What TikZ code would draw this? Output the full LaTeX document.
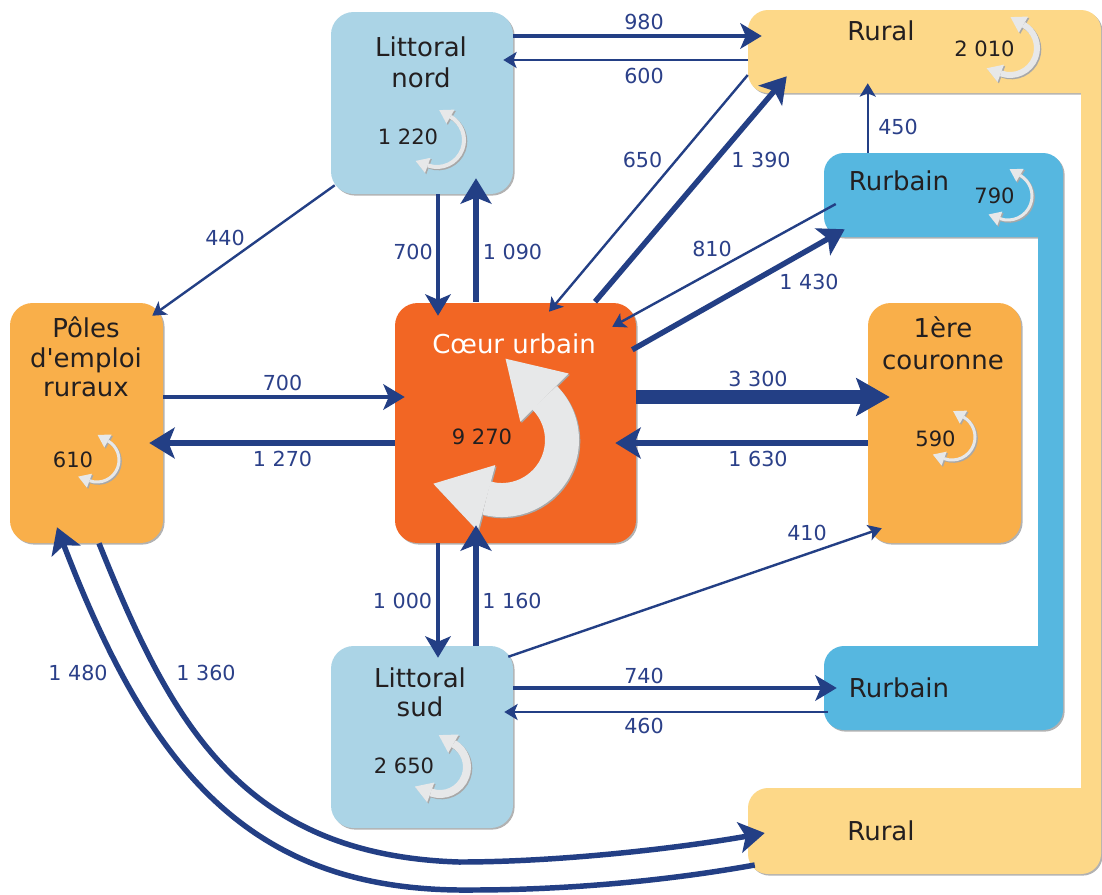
\documentclass[tikz,border=0pt]{standalone}
\usepackage{fontspec}
\setmainfont{DejaVu Sans}
\usetikzlibrary{arrows.meta,calc,shadows}
\definecolor{arrowc}{HTML}{233F85}
\definecolor{labc}{HTML}{2B4089}
\definecolor{litc}{HTML}{ABD4E6}
\definecolor{rurc}{HTML}{FDD888}
\definecolor{rbc}{HTML}{56B7E0}
\definecolor{orc}{HTML}{F9AF4A}
\definecolor{cuc}{HTML}{F26624}
\definecolor{loopc}{HTML}{E7E8E9}
\definecolor{loopsh}{HTML}{A8A8A8}
\definecolor{txtc}{HTML}{231F20}
\newcommand\rloopshape[6]{%
  \draw[#1, line width=#3*0.75pt] (#4:#2) arc[start angle=#4, end angle=#5, radius=#2];
  \fill[#1] ($(#5:#2)+({#5-90}:#6)$) -- ({#5}:{#2+0.62*#6}) -- ({#5}:{#2-0.62*#6}) -- cycle;
  \fill[#1] ($(#4:#2)+({#4+90}:#6)$) -- ({#4}:{#2+0.62*#6}) -- ({#4}:{#2-0.62*#6}) -- cycle;}
\newcommand\rloop[7]{%
  \begin{scope}[shift={(#1+1.3,#2+1.3)}]\rloopshape{loopsh}{#3}{#4}{#5}{#6}{#7}\end{scope}
  \begin{scope}[shift={(#1,#2)}]\rloopshape{loopc}{#3}{#4}{#5}{#6}{#7}\end{scope}}
\begin{document}
\begin{tikzpicture}[x=0.75pt,y=-0.75pt,
  shadowed/.style={drop shadow={shadow xshift=1.2pt,shadow yshift=-1.2pt,opacity=.3,fill=black}},
  box/.style={shadowed, rounded corners=17pt, inner sep=0pt},
  anchorbox/.style={inner sep=0pt},
  ttl/.style={text=txtc, font=\fontsize{19.5}{23}\selectfont, anchor=base, inner sep=0pt},
  num/.style={text=txtc, font=\fontsize{15.8}{18}\selectfont, anchor=base, inner sep=0pt},
  lab/.style={text=labc, font=\fontsize{15.5}{18}\selectfont, anchor=base, inner sep=0pt},
  flow/.style={draw=arrowc, line cap=butt},
  fthin/.style={flow, line width=1.8pt, -{Stealth[length=10pt,width=12pt,inset=2.5pt]}},
  fmed/.style={flow, line width=3pt, -{Stealth[length=16pt,width=19pt,inset=4pt]}},
  fthick/.style={flow, line width=4.1pt, -{Stealth[length=19pt,width=23pt,inset=4.5pt]}},
  fheavy/.style={flow, line width=5.2pt, -{Stealth[length=19pt,width=23pt,inset=4.5pt]}},
  fhuge/.style={flow, line width=9.8pt, -{Stealth[length=25pt,width=28pt,inset=5pt]}}]
\useasboundingbox (0,0) rectangle (1102,894);
\fill[white] (0,0) rectangle (1102,894);
% Rural C-shape
\fill[rurc, shadowed] (748,73) -- (748,30) .. controls (748,19) and (757,10) .. (768,10) -- (1081,10) .. controls (1092,10) and (1101,19) .. (1101,30) -- (1101,854) .. controls (1101,865) and (1092,874) .. (1081,874) -- (768,874) .. controls (757,874) and (748,865) .. (748,854) -- (748,808) .. controls (748,797) and (757,788) .. (768,788) -- (1081,788) -- (1081,93) -- (768,93) .. controls (757,93) and (748,84) .. (748,73) -- cycle;
% Rurbain C-shape
\fill[rbc, shadowed] (824,190) -- (824,173) .. controls (824,162) and (833,153) .. (844,153) -- (1043,153) .. controls (1054,153) and (1063,162) .. (1063,173) -- (1063,710) .. controls (1063,721) and (1054,730) .. (1043,730) -- (844,730) .. controls (833,730) and (824,721) .. (824,710) -- (824,666) .. controls (824,655) and (833,646) .. (844,646) -- (1038,646) -- (1038,237) -- (844,237) .. controls (833,237) and (824,228) .. (824,217) -- cycle;
\node[anchorbox, minimum width=264.75pt, minimum height=62.25pt] (rt) at (924.5,51.5) {};
\node[anchorbox, minimum width=264.75pt, minimum height=64.5pt] (rb) at (924.5,831) {};
\node[anchorbox, minimum width=179.25pt, minimum height=63pt] (ut) at (943.5,195) {};
\node[anchorbox, minimum width=179.25pt, minimum height=63pt] (ub) at (943.5,688) {};
% boxes
\node[box, fill=litc, minimum width=136.5pt, minimum height=136.5pt] (ln) at (422,103) {};
\node[box, fill=litc, minimum width=136.5pt, minimum height=136.5pt] (ls) at (422,737) {};
\node[box, fill=orc, minimum width=114.75pt, minimum height=180pt] (po) at (86.5,423) {};
\node[box, fill=orc, minimum width=114.75pt, minimum height=180pt] (pc) at (944.5,423) {};
\node[box, fill=cuc, minimum width=180.75pt, minimum height=180pt] (cu) at (515.5,423) {};
% self loops
\rloop{502}{440}{60}{34}{105}{-45}{55}
\rloop{437}{140}{27}{4}{110}{-60}{13}
\rloop{1010}{48}{27}{6}{110}{-60}{15}
\rloop{1008}{196}{24}{3}{110}{-60}{12}
\rloop{952}{437}{23}{3}{110}{-60}{12}
\rloop{97}{460}{22}{3}{110}{-60}{12}
\rloop{440}{767}{27}{8}{110}{-60}{17}
% titles
\node[ttl] (tln1) at (421,56) {Littoral};
\node[ttl] (tln2) at (421,87) {nord};
\node[ttl] (trt) at (881,40) {Rural};
\node[ttl] (trb) at (881,840) {Rural};
\node[ttl] (tut) at (899,190) {Rurbain};
\node[ttl] (tub) at (899,697) {Rurbain};
\node[ttl] (tpc1) at (943,337) {1ère};
\node[ttl] (tpc2) at (943,369) {couronne};
\node[ttl, text=white] (tcu) at (514,353) {Cœur urbain};
\node[ttl] (tpo1) at (86,337) {Pôles};
\node[ttl] (tpo2) at (86,367) {d\textquotesingle emploi};
\node[ttl] (tpo3) at (86,396) {ruraux};
\node[ttl] (tls1) at (420,687) {Littoral};
\node[ttl] (tls2) at (420,716) {sud};
% internal numbers
\node[num] (n1) at (408,144) {1 220};
\node[num] (n2) at (984.5,56) {2 010};
\node[num] (n3) at (994.5,203) {790};
\node[num] (n4) at (935.5,446) {590};
\node[num] (n5) at (73,467) {610};
\node[num] (n6) at (482,444) {9 270};
\node[num] (n7) at (404,773) {2 650};
% flows
\draw[fmed] ($(ln.east)+(0,-67)$) -- ($(rt.west)+(14,-15.5)$);
\draw[fthin] ($(rt.west)+(0,8.5)$) -- ($(ln.east)+(-10,-43)$);
\draw[fthin] ($(rt.west)+(0,23.5)$) -- ($(cu.north)+(33.5,9)$);
\draw[fthick] ($(cu.north)+(79.5,-1)$) -- ($(rt.south west)+(39,-17)$);
\draw[fthin] ($(ln.south west)+(4,-9)$) -- ($(po.north east)+(-11,13)$);
\draw[fmed] ($(ln.south)+(16,0)$) -- ($(cu.north)+(-77.5,13)$);
\draw[fthick] ($(cu.north)+(-39.5,-1)$) -- ($(ln.south)+(54,-16)$);
\draw[fthin] ($(ut.west)+(12,9)$) -- ($(cu.north east)+(-24,24)$);
\draw[fthick] ($(cu.north east)+(-4,47)$) -- ($(ut.south west)+(21,-8)$);
\draw[fthin] ($(ut.north west)+(44,0)$) -- ($(rt.south west)+(120,-10)$);
\draw[fhuge] ($(cu.east)+(0,-26)$) -- ($(pc.west)+(22,-26)$);
\draw[fheavy] ($(pc.west)+(0,20)$) -- ($(cu.east)+(-21,20)$);
\draw[fmed] ($(po.east)+(0,-26)$) -- ($(cu.west)+(10,-26)$);
\draw[fheavy] ($(cu.west)+(0,20)$) -- ($(po.east)+(-14,20)$);
\draw[fthin] ($(ls.north east)+(-5,11)$) -- ($(pc.south west)+(14,-15)$);
\draw[fmed] ($(cu.south)+(-77.5,0)$) -- ($(ls.north)+(16,12)$);
\draw[fthick] ($(ls.north)+(54,0)$) -- ($(cu.south)+(-39.5,-18)$);
\draw[fmed] ($(ls.east)+(0,-49)$) -- ($(ub.west)+(13,0)$);
\draw[fthin] ($(ub.west)+(4,24)$) -- ($(ls.east)+(-9,-25)$);
\draw[fthick] ($(rb.west)+(7,34)$) .. controls (660,882) and (560,890) .. (470,890) .. controls (250,892) and (150,770) .. ($(po.south)+(-29.5,-16)$);
\draw[fthick] ($(po.south)+(12.5,0)$) .. controls (170,720) and (240,855) .. (459,862) .. controls (560,862) and (680,848) .. ($(rb.west)+(17,2)$);
% labels
\node[lab] (l980) at (644,29) {980};
\node[lab] (l600) at (644,83) {600};
\node[lab] (l650) at (642.5,167) {650};
\node[lab] (l1390) at (761,167) {1 390};
\node[lab] (l700a) at (413,259) {700};
\node[lab] (l1090) at (512.5,259) {1 090};
\node[lab] (l810) at (712,256) {810};
\node[lab] (l1430) at (809,289) {1 430};
\node[lab] (l450) at (898,134) {450};
\node[lab] (l440) at (225,245) {440};
\node[lab] (l3300) at (758,386) {3 300};
\node[lab] (l1630) at (758,466) {1 630};
\node[lab] (l700b) at (282.5,390) {700};
\node[lab] (l1270) at (282.5,466) {1 270};
\node[lab] (l410) at (807,540) {410};
\node[lab] (l1000) at (402.5,608) {1 000};
\node[lab] (l1160) at (512,608) {1 160};
\node[lab] (l740) at (644,683) {740};
\node[lab] (l460) at (644,733) {460};
\node[lab] (l1480) at (78,680) {1 480};
\node[lab] (l1360) at (206,680) {1 360};
\end{tikzpicture}
\end{document}
